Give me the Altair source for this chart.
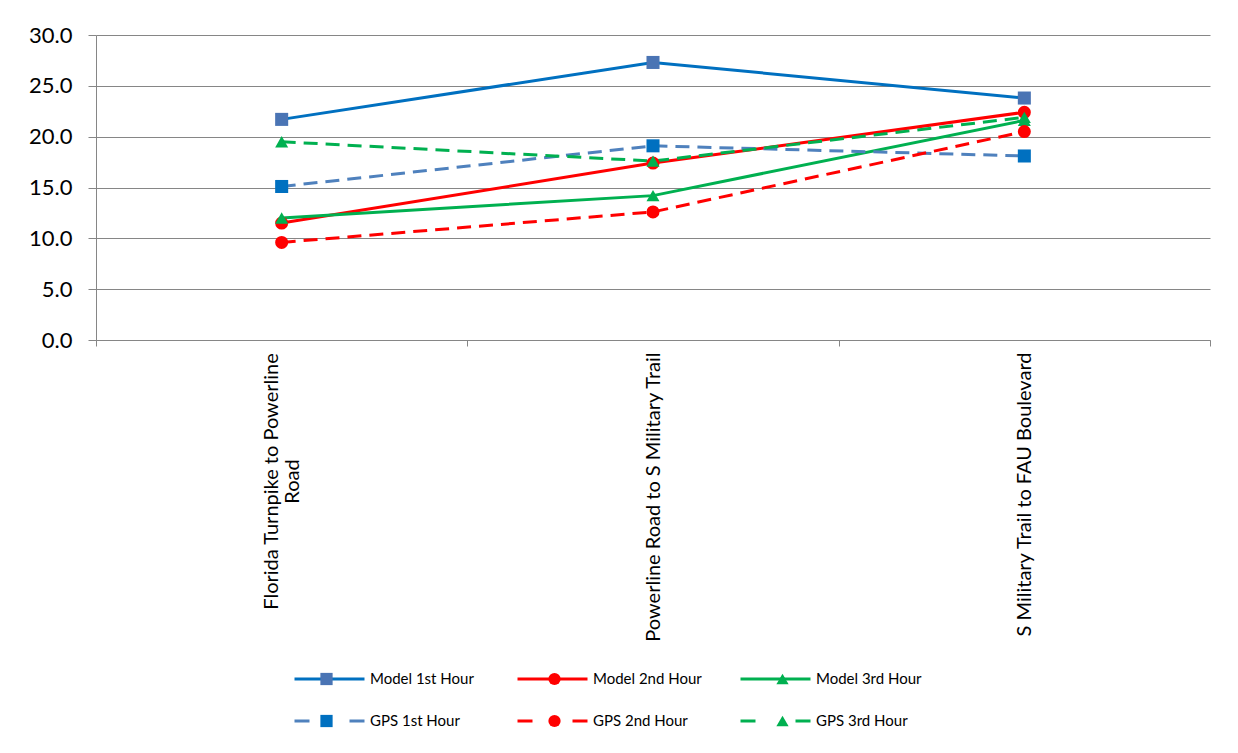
import altair as alt
import pandas as pd

categories = [
    "Florida Turnpike to Powerline Road",
    "Powerline Road to S Military Trail",
    "S Military Trail to FAU Boulevard",
]
series = ["Model 1st Hour", "Model 2nd Hour", "Model 3rd Hour",
          "GPS 1st Hour", "GPS 2nd Hour", "GPS 3rd Hour"]
model_1st = [21.7, 27.3, 23.8]
model_2nd = [11.5, 17.4, 22.4]
model_3rd = [12.0, 14.2, 21.6]
gps_1st = [15.1, 19.1, 18.1]
gps_2nd = [9.6, 12.6, 20.5]
gps_3rd = [19.5, 17.6, 21.9]
values = [model_1st, model_2nd, model_3rd, gps_1st, gps_2nd, gps_3rd]

line_colors = ["#0070C0", "#FF0000", "#00B050", "#4F81BD", "#FF0000", "#00B050"]
marker_colors = ["#4A74B4", "#FF0000", "#00B050", "#0070C0", "#FF0000", "#00B050"]
shapes = ["square", "circle", "triangle-up", "square", "circle", "triangle-up"]
kinds = ["model", "model", "model", "gps", "gps", "gps"]
legend_dashes = [[1, 0], [1, 0], [1, 0], [15, 40], [15, 40], [15, 40]]

rows = []
for s, vals, lc, mc, sh, k in zip(series, values, line_colors, marker_colors, shapes, kinds):
    for c, v in zip(categories, vals):
        rows.append({"segment": c, "value": v, "series": s, "series2": s,
                     "lcolor": lc, "mcolor": mc, "shape": sh, "kind": k})
df = pd.DataFrame(rows)

FONT = "Lato"
GRAY = "#868686"
FL = "datum.value == 'Florida Turnpike to Powerline Road'"

x_enc = alt.X(
    "segment:N", sort=categories, bandPosition=0.5,
    scale=alt.Scale(type="band", paddingInner=0, paddingOuter=0),
    axis=alt.Axis(
        title=None, labelAngle=-90, tickBand="extent", tickSize=6,
        labelFontSize=20, labelFont=FONT, labelColor="#000000",
        domainColor=GRAY, tickColor=GRAY, grid=False, labelLimit=400,
        labelLineHeight=21,
        labelExpr=FL + " ? ['Florida Turnpike to Powerline', 'Road'] : datum.label",
        labelAlign={"condition": {"test": FL, "value": "center"}, "value": "right"},
        labelPadding={"condition": {"test": FL, "value": 135}, "value": 6},
        labelOffset={"condition": {"test": FL, "value": -10.5}, "value": 0},
    ),
)
y_enc = alt.Y(
    "value:Q",
    scale=alt.Scale(domain=[0, 30], nice=False, zero=True),
    axis=alt.Axis(
        title=None, values=[0, 5, 10, 15, 20, 25, 30], format=".1f",
        labelFontSize=22, labelFont=FONT, labelColor="#000000",
        tickSize=8, labelPadding=16, domainColor=GRAY, tickColor=GRAY,
        gridColor=GRAY, gridWidth=1,
    ),
)

base = alt.Chart(df)
lines_model = base.transform_filter("datum.kind == 'model'").mark_line(strokeWidth=3).encode(
    x=x_enc, y=y_enc, color=alt.Color("lcolor:N", scale=None), detail="series:N")
lines_gps = base.transform_filter("datum.kind == 'gps'").mark_line(strokeWidth=3, strokeDash=[14, 8]).encode(
    x=x_enc, y=y_enc, color=alt.Color("lcolor:N", scale=None), detail="series:N")
points = base.mark_point(filled=True, size=170, opacity=1).encode(
    x=x_enc, y=y_enc,
    color=alt.Color("mcolor:N", scale=None),
    shape=alt.Shape("shape:N", scale=None),
)

common = dict(
    title=None, orient="none", direction="horizontal", columns=3,
    gridAlign="all", rowPadding=22, labelFontSize=15, labelFont=FONT,
    labelFontWeight="normal", clipHeight=20, padding=0, legendY=634,
)
leg_lines = alt.Legend(
    legendX=197, columnPadding=37, symbolSize=4900, labelOffset=4,
    symbolStrokeWidth=3, labelColor="#000000", **common)
leg_marks = alt.Legend(
    legendX=223, columnPadding=209, symbolSize=150, labelOffset=4,
    symbolStrokeWidth=0, labelExpr="''", **common)

legend_lines = alt.Chart(df).transform_filter("false").mark_line(strokeWidth=3).encode(
    color=alt.Color("series:N", scale=alt.Scale(domain=series, range=line_colors), legend=leg_lines),
    strokeDash=alt.StrokeDash("series:N", scale=alt.Scale(domain=series, range=legend_dashes), legend=leg_lines),
)
legend_marks = alt.Chart(df).transform_filter("false").mark_point(filled=True, opacity=1).encode(
    color=alt.Color("series2:N", scale=alt.Scale(domain=series, range=marker_colors), legend=leg_marks),
    shape=alt.Shape("series2:N", scale=alt.Scale(domain=series, range=shapes), legend=leg_marks),
)

chart = alt.layer(lines_model, lines_gps, points, legend_lines, legend_marks).resolve_scale(
    color="independent", shape="independent", strokeDash="independent"
).properties(
    width=1114, height=305,
    padding={"left": 88, "top": 27, "right": 12, "bottom": 405},
    autosize=alt.AutoSizeParams(type="none"),
    background="#ffffff",
).configure_view(stroke=None)

chart.save("out.html", embed_options={"renderer": "svg", "actions": False})
